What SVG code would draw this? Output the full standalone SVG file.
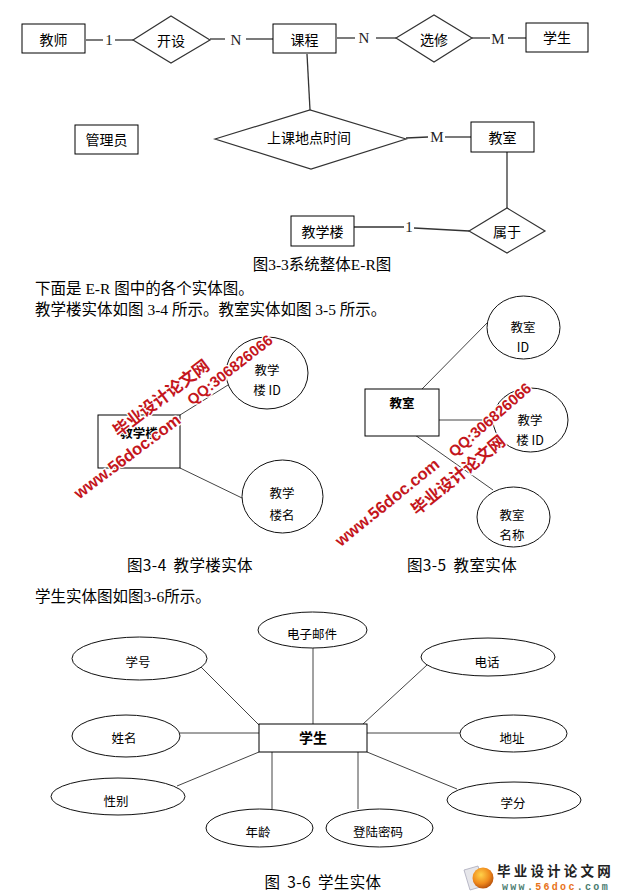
<svg xmlns="http://www.w3.org/2000/svg" width="626" height="894" viewBox="0 0 626 894">
<style>
.box{fill:#fff;stroke:#000;stroke-width:1}
.dia{fill:#fff;stroke:#333;stroke-width:1.2}
.ell{fill:#fff;stroke:#111;stroke-width:1}
#connectors line{stroke:#333;stroke-width:1.3}
#connectors .thin{stroke:#444;stroke-width:1}
.t{font-family:"Noto Sans CJK SC",sans-serif;font-size:14px;text-anchor:middle;fill:#000}
.s{font-size:12.5px}
.b{font-weight:bold}
.card{font-family:"Liberation Serif",serif;font-size:15px;text-anchor:middle;fill:#222}
.body{font-family:"Liberation Serif","Noto Sans CJK SC",serif;font-size:15.5px;fill:#000}
.cap{font-family:"Noto Sans CJK SC",sans-serif;font-size:15.5px;text-anchor:middle;fill:#000;word-spacing:3px;letter-spacing:0.4px}
.wm{font-family:"Liberation Sans","Noto Sans CJK SC",sans-serif;font-weight:bold;fill:#c4161c;stroke:#fff;stroke-width:2.5;paint-order:stroke;text-anchor:middle}
</style>
<defs>
<radialGradient id="orb" cx="0.4" cy="0.35" r="0.7">
<stop offset="0" stop-color="#ffd24a"/>
<stop offset="0.6" stop-color="#f08a1c"/>
<stop offset="1" stop-color="#b04a0a"/>
</radialGradient>
</defs>
<rect width="626" height="894" fill="#fff"/>

<g id="connectors">
<line x1="86" y1="40" x2="103" y2="40"/>
<line x1="115" y1="40" x2="133" y2="40"/>
<line x1="210" y1="39" x2="225" y2="39"/>
<line x1="246" y1="39" x2="273" y2="39"/>
<line x1="337" y1="38" x2="355" y2="38"/>
<line x1="376" y1="38" x2="396" y2="38"/>
<line x1="472" y1="38" x2="490" y2="38"/>
<line x1="508" y1="38" x2="526" y2="38"/>
<line x1="307" y1="54" x2="310" y2="110"/>
<line x1="406" y1="138" x2="428" y2="137"/>
<line x1="445" y1="137" x2="471" y2="137"/>
<line x1="507" y1="152" x2="507" y2="208"/>
<line x1="354" y1="227" x2="404" y2="227"/>
<line x1="414" y1="228" x2="469" y2="231"/>
<line class="thin" x1="180" y1="415" x2="228" y2="385"/>
<line class="thin" x1="180" y1="468" x2="242" y2="498"/>
<line class="thin" x1="422" y1="389" x2="487" y2="323"/>
<line class="thin" x1="439" y1="420" x2="493" y2="420"/>
<line class="thin" x1="415" y1="435" x2="493" y2="490"/>
<line class="thin" x1="313" y1="648" x2="313" y2="724"/>
<line class="thin" x1="199" y1="665" x2="259" y2="725"/>
<line class="thin" x1="180" y1="733" x2="259" y2="733"/>
<line class="thin" x1="427" y1="665" x2="363" y2="724"/>
<line class="thin" x1="367" y1="733" x2="460" y2="733"/>
<line class="thin" x1="177" y1="786" x2="259" y2="752"/>
<line class="thin" x1="272" y1="752" x2="272" y2="809"/>
<line class="thin" x1="358" y1="752" x2="358" y2="809"/>
<line class="thin" x1="367" y1="752" x2="457" y2="789"/>
</g>

<g id="cardinalities">
<text class="card" x="109" y="45">1</text>
<text class="card" x="236" y="44.5">N</text>
<text class="card" x="364" y="43">N</text>
<text class="card" x="498" y="43.5">M</text>
<text class="card" x="437" y="142">M</text>
<text class="card" x="409" y="232">1</text>
</g>

<g id="n-jiaoshi"><rect class="box" x="22" y="24" width="63" height="29"/><text class="t" x="53.5" y="44.5">教师</text></g>
<g id="n-kaishe"><polygon class="dia" points="133,40 171,16 210,40 171,63"/><text class="t" x="171" y="46">开设</text></g>
<g id="n-kecheng"><rect class="box" x="273" y="24" width="63" height="29"/><text class="t" x="304.5" y="44.5">课程</text></g>
<g id="n-xuanxiu"><polygon class="dia" points="396,38 434,15 472,38 434,62"/><text class="t" x="434" y="45">选修</text></g>
<g id="n-xuesheng"><rect class="box" x="526" y="23" width="62" height="29"/><text class="t" x="557" y="42.5">学生</text></g>
<g id="n-guanliyuan"><rect class="box" x="75" y="125" width="63" height="29"/><text class="t" x="106.5" y="145">管理员</text></g>
<g id="n-shangke"><polygon class="dia" points="215,139 310,110 406,139 311,169"/><text class="t" x="309" y="142.5">上课地点时间</text></g>
<g id="n-jiaoshi2"><rect class="box" x="471" y="122" width="63" height="30"/><text class="t" x="502.5" y="143">教室</text></g>
<g id="n-shuyu"><polygon class="dia" points="469,231 507,208 545,231 507,253"/><text class="t" x="507" y="237">属于</text></g>
<g id="n-jiaoxuelou"><rect class="box" x="291" y="216" width="63" height="30"/><text class="t" x="322.5" y="237">教学楼</text></g>

<text class="body" x="322" y="270" text-anchor="middle" font-size="14">图3-3系统整体E-R图</text>
<text class="body" x="35" y="294">下面是 E-R 图中的各个实体图。</text>
<text class="body" x="35" y="315">教学楼实体如图 3-4 所示。教室实体如图 3-5 所示。</text>

<g id="f34-jiaoxuelou"><rect class="box" x="98" y="415" width="82" height="53"/><text class="t s b" x="139" y="438">教学楼</text></g>
<g id="f34-id"><ellipse class="ell" cx="267" cy="373" rx="41" ry="36"/><text class="t s" x="267" y="375">教学</text><text class="t s" x="267" y="395">楼 ID</text></g>
<g id="f34-name"><ellipse class="ell" cx="282.5" cy="496.5" rx="40.5" ry="36.5"/><text class="t s" x="282" y="498">教学</text><text class="t s" x="282" y="520">楼名</text></g>
<text class="cap" x="190" y="571">图3-4 教学楼实体</text>

<g id="f35-jiaoshi"><rect class="box" x="365" y="389" width="74" height="47"/><text class="t s b" x="402" y="408">教室</text></g>
<g id="f35-id"><ellipse class="ell" cx="523.5" cy="327.5" rx="36.5" ry="31.5"/><text class="t s" x="523" y="332">教室</text><text class="t s" x="523" y="352">ID</text></g>
<g id="f35-lou"><ellipse class="ell" cx="530.5" cy="420" rx="37.5" ry="32"/><text class="t s" x="530" y="425">教学</text><text class="t s" x="530" y="445">楼 ID</text></g>
<g id="f35-name"><ellipse class="ell" cx="513.5" cy="517" rx="36.5" ry="30"/><text class="t s" x="512" y="520">教室</text><text class="t s" x="512" y="540">名称</text></g>
<text class="cap" x="462" y="571">图3-5 教室实体</text>

<text class="body" x="35" y="602">学生实体图如图3-6所示。</text>

<g id="f36-xuesheng"><rect class="box" x="259" y="724" width="108" height="28"/><text class="t b" x="313" y="743">学生</text></g>
<g id="f36-email"><ellipse class="ell" cx="312.5" cy="630" rx="54.5" ry="18"/><text class="t s" x="312" y="639">电子邮件</text></g>
<g id="f36-xuehao"><ellipse class="ell" cx="139.5" cy="658.5" rx="67.5" ry="21.5"/><text class="t s" x="138" y="667">学号</text></g>
<g id="f36-xingming"><ellipse class="ell" cx="126" cy="736" rx="54" ry="21"/><text class="t s" x="124" y="743">姓名</text></g>
<g id="f36-dianhua"><ellipse class="ell" cx="488" cy="657" rx="67" ry="19"/><text class="t s" x="487" y="667">电话</text></g>
<g id="f36-dizhi"><ellipse class="ell" cx="513.5" cy="733.5" rx="53.5" ry="18.5"/><text class="t s" x="512" y="743">地址</text></g>
<g id="f36-xingbie"><ellipse class="ell" cx="118" cy="796.5" rx="67" ry="18.5"/><text class="t s" x="116" y="806">性别</text></g>
<g id="f36-nianling"><ellipse class="ell" cx="259.5" cy="828" rx="53.5" ry="19"/><text class="t s" x="258" y="837">年龄</text></g>
<g id="f36-mima"><ellipse class="ell" cx="379.5" cy="828" rx="53.5" ry="19"/><text class="t s" x="378" y="837">登陆密码</text></g>
<g id="f36-xuefen"><ellipse class="ell" cx="514" cy="800" rx="67" ry="18"/><text class="t s" x="513" y="808">学分</text></g>
<text class="cap" x="323" y="888">图 3-6 学生实体</text>

<g id="watermark-1">
<text class="wm" font-size="16.5" transform="translate(161,398) rotate(-37)" y="6">毕业设计论文网</text>
<text class="wm" font-size="15" transform="translate(230,370) rotate(-38)" y="5">QQ:306826066</text>
<text class="wm" font-size="16.5" transform="translate(127,456) rotate(-37)" y="6">www.56doc.com</text>
</g>
<g id="watermark-2">
<text class="wm" font-size="15" transform="translate(490,420) rotate(-41)" y="5">QQ:306826066</text>
<text class="wm" font-size="16.5" transform="translate(458,475) rotate(-39)" y="6">毕业设计论文网</text>
<text class="wm" font-size="16.5" transform="translate(387,502) rotate(-39)" y="6">www.56doc.com</text>
</g>

<g id="logo">
<polygon points="464,870 478,866 484,886 470,890" fill="#e6e6ea" stroke="#aab" stroke-width="0.8"/>
<circle cx="483" cy="878" r="10.5" fill="url(#orb)"/>
<text x="497" y="876" font-family="Noto Sans CJK SC,sans-serif" font-weight="bold" font-size="13.5" letter-spacing="3.2" fill="#222">毕业设计论文网</text>
<text x="502" y="890" font-family="Liberation Mono,monospace" font-weight="bold" font-size="10" letter-spacing="2.3" fill="#4a7c6f">www.<tspan fill="#e8731a">56doc</tspan>.com</text>
</g>
</svg>
